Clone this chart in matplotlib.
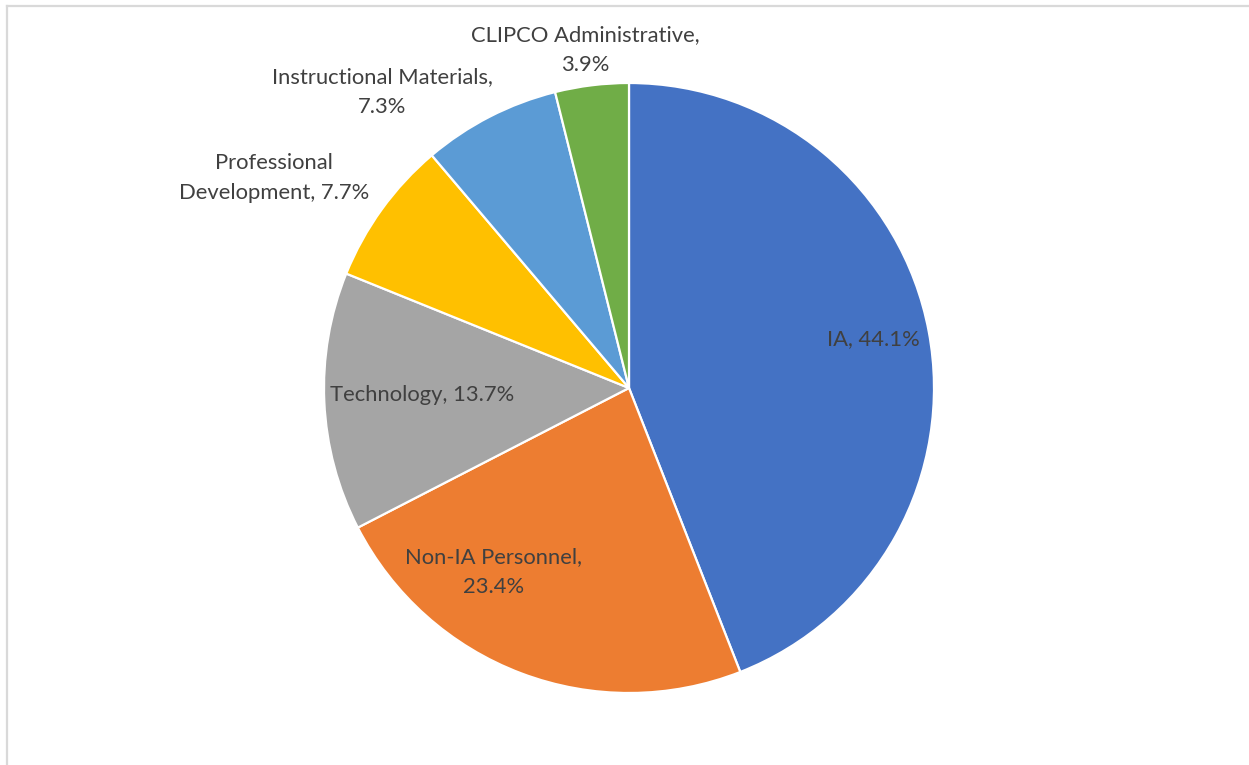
import matplotlib
matplotlib.use("Agg")
import matplotlib.pyplot as plt
from matplotlib.lines import Line2D

CATEGORIES = ["IA", "Non-IA Personnel", "Technology", "Professional Development",
              "Instructional Materials", "CLIPCO Administrative"]
SHARES = [44.1, 23.4, 13.7, 7.7, 7.3, 3.9]
LABELS = ["IA, 44.1%", "Non-IA Personnel,\n23.4%", "Technology, 13.7%",
          "Professional\nDevelopment, 7.7%", "Instructional Materials,\n7.3%",
          "CLIPCO Administrative,\n3.9%"]
COLORS = ["#4472C4", "#ED7D31", "#A5A5A5", "#FFC000", "#5B9BD5", "#70AD47"]

# label positions in pie units (radius = 1)
LABEL_POS = [(0.80, 0.16), (-0.443, -0.603), (-0.679, -0.023),
             (-1.164, 0.689), (-0.810, 0.970), (-0.144, 1.108)]

W, H = 1249, 765
CX, CY, R = 629, 388, 305

plt.rcParams["font.family"] = ["Lato", "DejaVu Sans"]

fig = plt.figure(figsize=(W / 100, H / 100), dpi=100)
fig.patch.set_facecolor("white")

ax = fig.add_axes([(CX - R) / W, (H - CY - R) / H, 2 * R / W, 2 * R / H])
ax.pie(SHARES, colors=COLORS, startangle=90, counterclock=False, radius=1,
       wedgeprops={"edgecolor": "white", "linewidth": 1.6})
ax.set_xlim(-1, 1)
ax.set_ylim(-1, 1)
ax.set_aspect("equal")
ax.axis("off")

for text, (x, y) in zip(LABELS, LABEL_POS):
    ax.text(x, y, text, ha="center", va="center", fontsize=15.8,
            color="#404040", linespacing=1.62, clip_on=False)

# chart area border (only top and left edges are visible)
fig.add_artist(Line2D([7 / W, 1], [1 - 6 / H, 1 - 6 / H], transform=fig.transFigure,
                      color="#d9d9d9", linewidth=1.6))
fig.add_artist(Line2D([7 / W, 7 / W], [0, 1 - 6 / H], transform=fig.transFigure,
                      color="#d9d9d9", linewidth=1.6))

fig.savefig("out.png", dpi=100, facecolor="white")
